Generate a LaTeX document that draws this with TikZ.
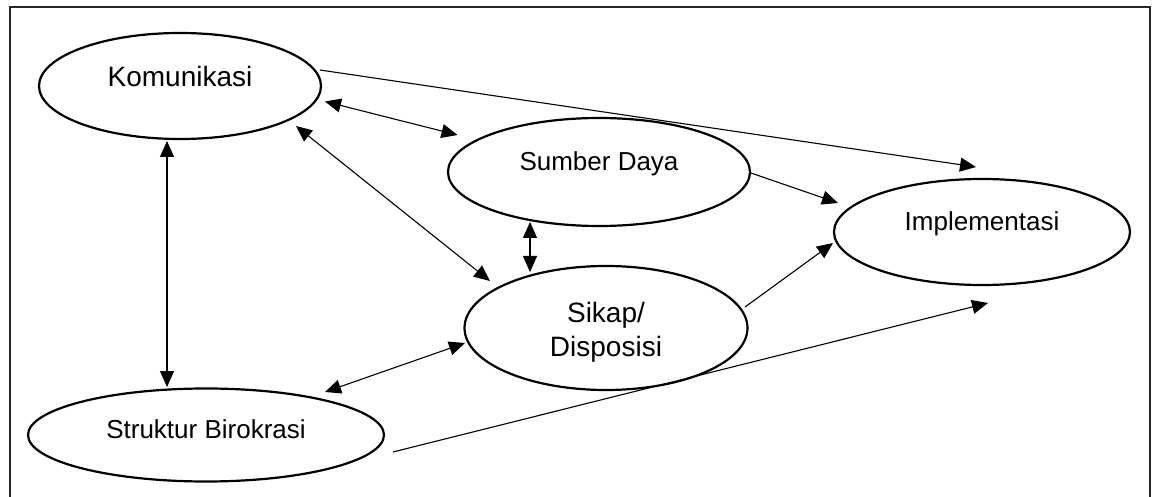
\documentclass[tikz,border=0pt]{standalone}
\usepackage{fontspec}
\setmainfont{Liberation Sans}
\usetikzlibrary{shapes.geometric,arrows.meta}
\begin{document}
\begin{tikzpicture}[x=1pt,y=-1pt,
  bubble/.style={draw=black, line width=2.2pt, fill=white, ellipse, inner sep=0pt},
  big/.style={font=\fontsize{28}{34}\selectfont, align=center},
  small/.style={font=\fontsize{26}{31}\selectfont, align=center},
  conn/.style={line width=1.1pt, -{Triangle[length=16pt,width=14pt]}},
  dconn/.style={line width=1.1pt, {Triangle[length=16pt,width=14pt]}-{Triangle[length=16pt,width=14pt]}}]
\useasboundingbox (0,0) rectangle (1152,497);
\draw[line width=1.3pt, black!85] (10,497) -- (10,7) -- (1150,7) -- (1150,497);

\node[bubble, minimum width=282, minimum height=106,
  label={[big, yshift=10pt]center:Komunikasi}] (kom) at (180,86) {};
\node[bubble, minimum width=302, minimum height=108,
  label={[small, yshift=8.5pt]center:Sumber Daya}] (sum) at (599,172) {};
\node[bubble, minimum width=283, minimum height=124,
  label={[big, yshift=-4pt]center:Sikap/\\Disposisi}] (sik) at (606,328) {};
\node[bubble, minimum width=296, minimum height=106,
  label={[small, yshift=8.5pt]center:Implementasi}] (impl) at (982,232) {};
\node[bubble, minimum width=356, minimum height=93,
  label={[small, yshift=6pt]center:Struktur Birokrasi}] (str) at (206,435) {};

\draw[conn] ([shift={(140,-16)}]kom.center) -- ([shift={(-6,-65)}]impl.center);
\draw[dconn] ([shift={(145,15.5)}]kom.center) -- ([shift={(-141.5,-37)}]sum.center);
\draw[dconn] ([shift={(116,40)}]kom.center) -- ([shift={(-116,-47)}]sik.center);
\draw[dconn] ([shift={(-13,55)}]kom.center) -- ([shift={(-39,-48)}]str.center);
\draw[dconn] ([shift={(-69,50)}]sum.center) -- ([shift={(-76,-56)}]sik.center);
\draw[conn] ([shift={(152,1)}]sum.center) -- ([shift={(-144,-29)}]impl.center);
\draw[conn] ([shift={(139,-21)}]sik.center) -- ([shift={(-149,11)}]impl.center);
\draw[dconn] ([shift={(119,-43)}]str.center) -- ([shift={(-141,15)}]sik.center);
\draw[conn] ([shift={(187,17)}]str.center) -- ([shift={(6,71)}]impl.center);
\end{tikzpicture}
\end{document}
